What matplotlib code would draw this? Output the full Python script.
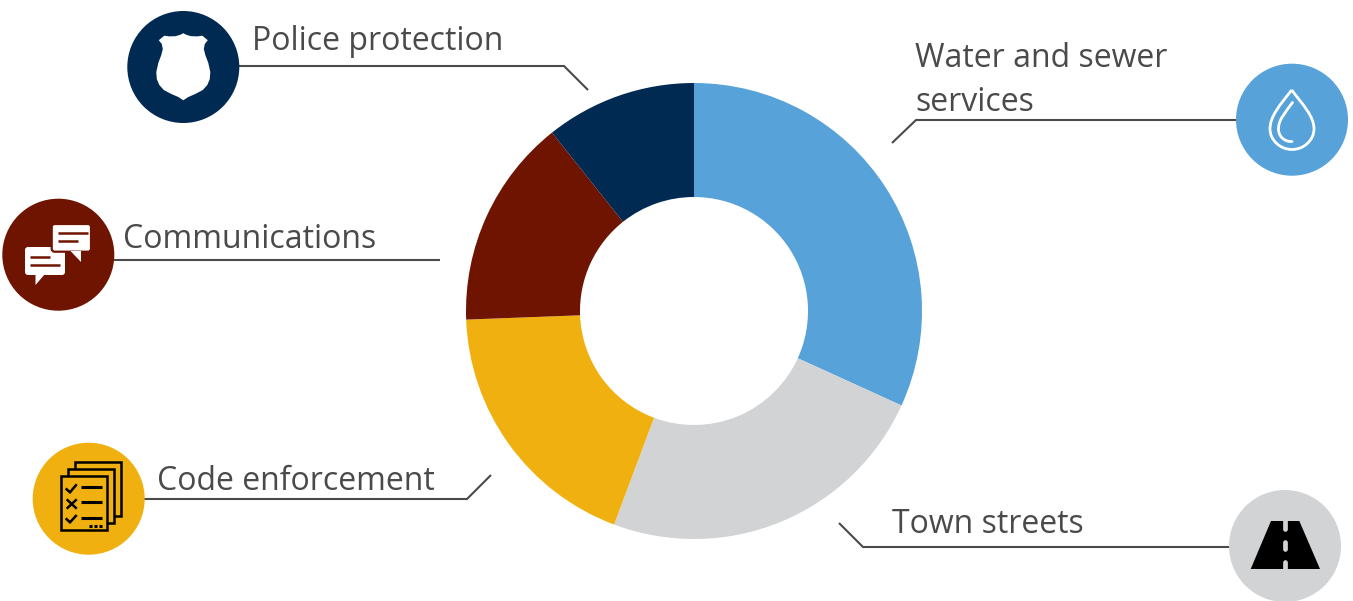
#!/usr/bin/env python3
"""Donut chart of town services with icon badges and leader lines."""

import matplotlib

matplotlib.use("Agg")
import matplotlib.pyplot as plt
from matplotlib.patches import Circle, FancyBboxPatch, PathPatch, Polygon, Rectangle
from matplotlib.path import Path

CATEGORIES = ["Water and sewer\nservices", "Town streets", "Code enforcement",
              "Communications", "Police protection"]
SHARES = [31.8, 23.9, 18.7, 14.9, 10.7]
COLORS = ["#57A2D8", "#D1D3D4", "#F0B110", "#6F1400", "#012A52"]

TEXT_COLOR = "#4A4A4A"
LINE_COLOR = "#4A4A4A"

W, H = 1353, 601

plt.rcParams["font.family"] = ["Open Sans", "DejaVu Sans"]

fig = plt.figure(figsize=(W / 100, H / 100), dpi=100)
ax = fig.add_axes([0, 0, 1, 1])

# y axis runs downwards, so increasing angle is clockwise on screen
ax.pie(
    SHARES, colors=COLORS, startangle=-90, counterclock=True,
    center=(694, 311), radius=228,
    wedgeprops={"width": 114, "linewidth": 0},
)
ax.set_xlim(0, W)
ax.set_ylim(H, 0)
ax.set_aspect("equal")
ax.axis("off")


def line(xs, ys, color=LINE_COLOR, lw=1.5, cap="butt", z=2):
    ax.plot(xs, ys, color=color, lw=lw, solid_capstyle=cap,
            solid_joinstyle="miter", zorder=z)


# ── Labels and leaders ───────────────────────────────────
label_pos = [(915, 67.3), (891.7, 533.3), (157, 490.3), (123, 248.3), (252, 50.3)]
for name, (tx, ty) in zip(CATEGORIES, label_pos):
    # manual line stepping, the two-line label sits 44 px apart
    for i, part in enumerate(name.split("\n")):
        ax.text(tx, ty + 44 * i, part, fontsize=23, color=TEXT_COLOR,
                ha="left", va="baseline")

line([1236, 916, 892], [120, 120, 143])
line([1229, 863, 839], [547, 547, 523])
line([144, 467, 491], [499, 499, 475])
line([114, 440], [260, 260])
line([239, 564, 588], [66, 66, 90])

# ── Badges ───────────────────────────────────────────────
badge_pos = [(1292, 119.7), (1285, 546), (88.7, 498.7), (58.3, 254.7), (183.3, 67)]
for (cx, cy), col in zip(badge_pos, COLORS):
    ax.add_patch(Circle((cx, cy), 56, fc=col, ec="none", zorder=3))

# Police shield
half = [(0, 33.2), (3, 34.8), (8, 36.2), (14, 36.4), (19, 35.7), (24.5, 40.2), (21.5, 44),
        (20.5, 49), (22, 55), (25, 63), (27, 72), (26.5, 79), (24, 85), (19.5, 90),
        (12, 94), (5, 97), (0, 100.3)]
shield = [(183.3 + dx, y) for dx, y in half] + [(183.3 - dx, y) for dx, y in reversed(half[1:-1])]
ax.add_patch(Polygon(shield, closed=True, fc="white", ec="none", zorder=4))

# Chat bubbles, the rear one first
RED = COLORS[3]
ax.add_patch(FancyBboxPatch((27, 249), 36, 24, boxstyle="round,pad=2,rounding_size=3",
                            fc="white", ec="none", zorder=4))
ax.add_patch(Polygon([(35.5, 274), (35.5, 285), (45, 274)], fc="white", ec="none", zorder=4))
line([29.5, 49.5], [257, 257], color=RED, lw=1.8, z=5)
line([29.5, 60], [265, 265], color=RED, lw=1.8, z=5)
ax.add_patch(FancyBboxPatch((53.7, 226), 35.3, 23.7, boxstyle="round,pad=2,rounding_size=3",
                            fc="white", ec=RED, lw=1.6, zorder=5))
ax.add_patch(Polygon([(70.5, 251), (81, 262), (81, 251)], fc="white", ec="none", zorder=6))
line([57.5, 87.5], [232.7, 232.7], color=RED, lw=1.8, z=6)
line([57.5, 77.5], [240.7, 240.7], color=RED, lw=1.8, z=6)

# Checklist pages
YEL = COLORS[2]
for x0, y0 in [(74.7, 461.7), (67.7, 468.7), (60.7, 475.7)]:
    ax.add_patch(Rectangle((x0, y0), 46, 54.3, fc=YEL, ec="black", lw=1.8, zorder=4))
line([65.7, 70, 76.7], [488.5, 492.3, 484.3], color="black", lw=1.8, z=5)
line([65.7, 70, 76.7], [518.3, 522.3, 515], color="black", lw=1.8, z=5)
line([66.7, 76.7], [499.3, 508.7], color="black", lw=1.8, z=5)
line([76.7, 66.7], [499.3, 508.7], color="black", lw=1.8, z=5)
for ly in (487.3, 502.3, 518.3):
    line([81.3, 101.7], [ly, ly], color="black", lw=2.2, z=5)
for dx in (89, 94, 99):
    line([dx, dx + 3.3], [525.7, 525.7], color="black", lw=2.2, z=5)

# Water drop
drop = Path(
    [(1291.7, 90), (1280, 105), (1270, 116), (1270, 129),
     (1270, 140), (1280, 149.5), (1292, 149.5),
     (1304, 149.5), (1314, 140), (1314, 129),
     (1314, 116), (1303, 105), (1291.7, 90)],
    [Path.MOVETO] + [Path.CURVE4] * 12,
)
ax.add_patch(PathPatch(drop, fc="none", ec="white", lw=2.0, joinstyle="miter", zorder=4))
inner = Path(
    [(1292.5, 102.5), (1285, 113), (1278, 120), (1278.5, 130),
     (1279, 137), (1285, 142), (1292, 141.5)],
    [Path.MOVETO] + [Path.CURVE4] * 6,
)
ax.add_patch(PathPatch(inner, fc="none", ec="white", lw=2.0, capstyle="round", zorder=4))

# Road
ax.add_patch(Polygon([(1271, 521), (1299.3, 521), (1320, 569), (1250.7, 569)],
                     fc="black", ec="none", zorder=4))
for y0, y1 in [(519, 528.5), (541.5, 549), (562, 571)]:
    line([1285.3, 1285.3], [y0, y1], color=COLORS[1], lw=3.4, cap="round", z=5)

fig.savefig("out.png", dpi=100)
